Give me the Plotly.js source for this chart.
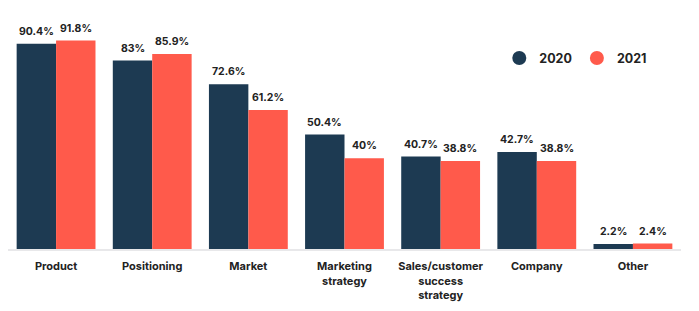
<!DOCTYPE html>
<html><head><meta charset="utf-8">
<script src="https://cdn.plot.ly/plotly-3.0.1.min.js"></script>
<style>html,body{margin:0;padding:0;background:#fff}#chart{width:699px;height:311px}</style>
</head><body><div id="chart"></div>
<script>
const categories = ["Product","Positioning","Market","Marketing<br>strategy","Sales/customer<br>success<br>strategy","Company","Other"];
const values2020 = [90.4, 83, 72.6, 50.4, 40.7, 42.7, 2.2];
const values2021 = [91.8, 85.9, 61.2, 40, 38.8, 38.8, 2.4];
const seriesNames = ["2020","2021"];
const colors = ["#1d3a52","#ff5a4b"];
const FONT = "Inter, 'Open Sans', sans-serif";

const bargap = 0.18;
const half = (1 - bargap) / 4;

const traces = [
  {type:'bar', x:categories, y:values2020, name:seriesNames[0], marker:{color:colors[0]}, showlegend:false, hoverinfo:'none'},
  {type:'bar', x:categories, y:values2021, name:seriesNames[1], marker:{color:colors[1]}, showlegend:false, hoverinfo:'none'},
  {type:'scatter', mode:'markers', x:[null], y:[null], name:seriesNames[0], marker:{color:colors[0], size:14, symbol:'circle'}},
  {type:'scatter', mode:'markers', x:[null], y:[null], name:seriesNames[1], marker:{color:colors[1], size:14, symbol:'circle'}}
];

const annotations = [];
[values2020, values2021].forEach((vals, s) => {
  vals.forEach((v, i) => {
    annotations.push({
      x: i + (s === 0 ? -half : half), y: v, xref:'x', yref:'y',
      text: v + '%', showarrow:false, yanchor:'bottom', yshift:4,
      font:{family:FONT, size:10.5, color:'#222', weight:700}
    });
  });
});

const layout = {
  width:699, height:311,
  margin:{l:8, r:18, t:22, b:62},
  paper_bgcolor:'#fff', plot_bgcolor:'#fff',
  barmode:'group', bargap:bargap, bargroupgap:0,
  xaxis:{type:'category', range:[-0.5,6.5], showline:true, linecolor:'#e8e8ea', linewidth:2,
         showgrid:false, zeroline:false, ticks:'', ticklen:0, ticklabelstandoff:6,
         tickfont:{family:FONT, size:11, color:'#222', weight:700}, automargin:false},
  yaxis:{range:[0,100], visible:false, showgrid:false, zeroline:false},
  showlegend:true,
  legend:{orientation:'h', x:0.73, y:0.84, xanchor:'left', yanchor:'middle',
          font:{family:FONT, size:12.5, color:'#222', weight:700}, itemwidth:30, bgcolor:'rgba(0,0,0,0)'},
  annotations:annotations
};

Plotly.newPlot('chart', traces, layout, {displayModeBar:false, staticPlot:true});
</script></body></html>
